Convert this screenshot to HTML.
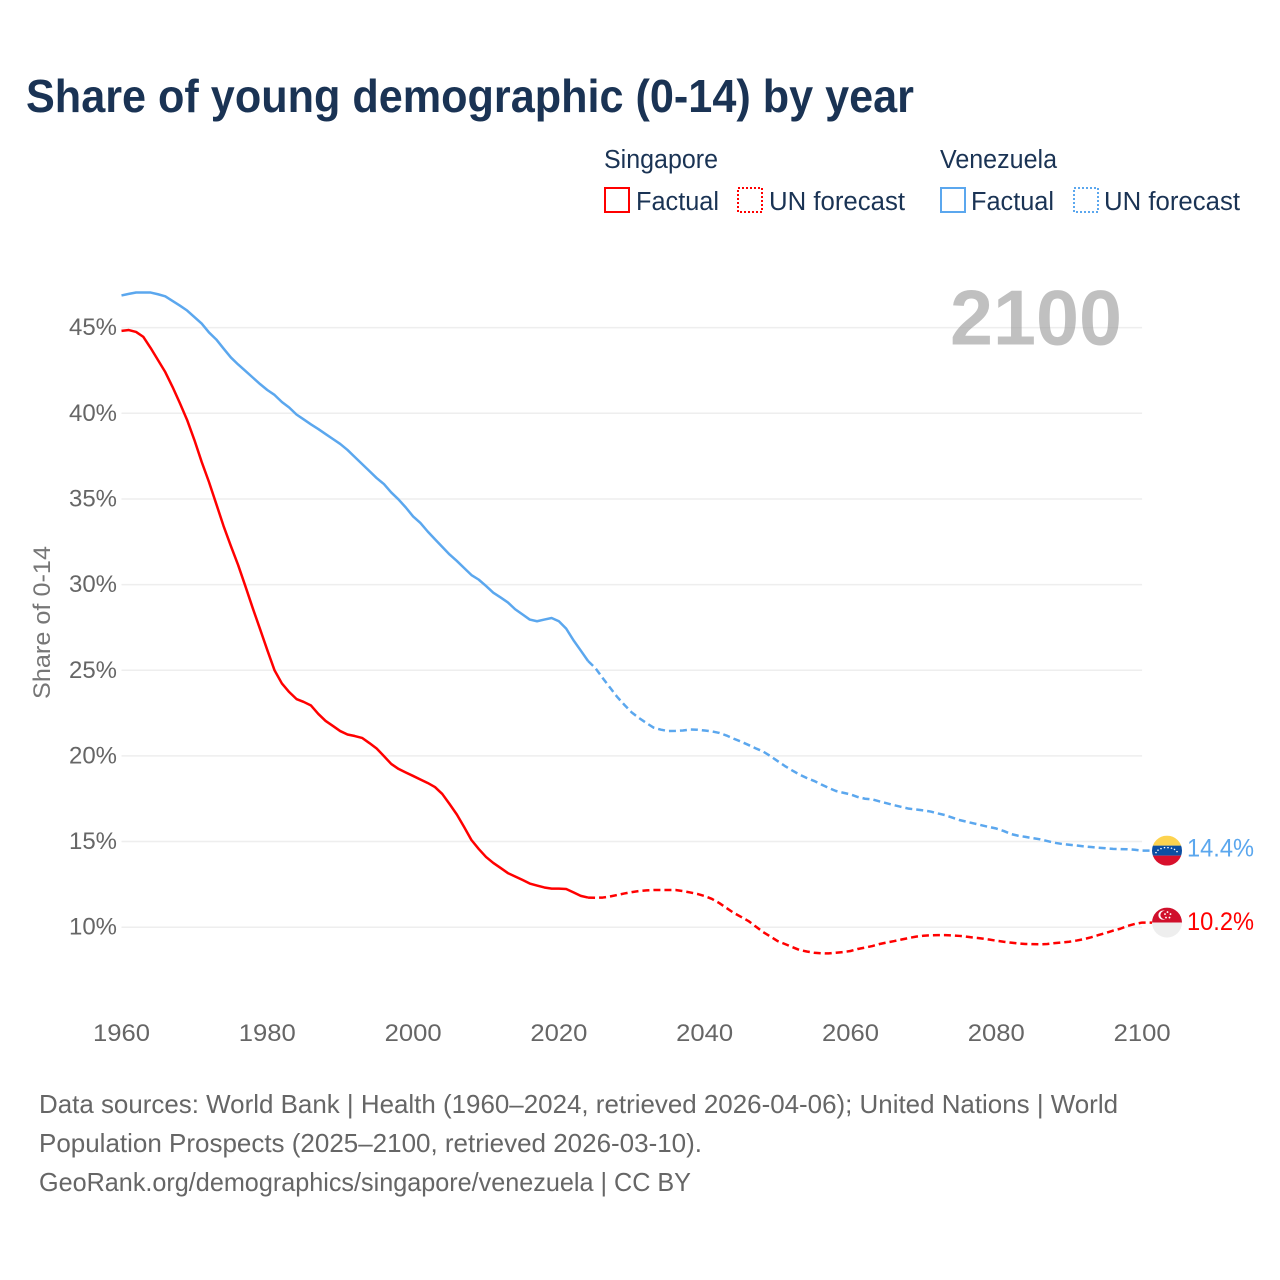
<!DOCTYPE html>
<html lang="en">
<head>
<meta charset="utf-8">
<title>Share of young demographic (0-14) by year</title>
<style>
html,body{margin:0;padding:0;background:#fff;}
svg{display:block;font-family:"Liberation Sans",sans-serif;}
</style>
</head>
<body>
<svg id="chart" xmlns="http://www.w3.org/2000/svg" width="1280" height="1280" viewBox="0 0 1280 1280">
  <rect x="0" y="0" width="1280" height="1280" fill="#ffffff"/>
  <text x="26" y="112" font-size="46" font-weight="700" fill="#1a3354" textLength="888" lengthAdjust="spacingAndGlyphs">Share of young demographic (0-14) by year</text>

  <g font-size="25.5" fill="#1a3354">
    <text x="604" y="168" textLength="114" lengthAdjust="spacingAndGlyphs">Singapore</text>
    <text x="940" y="168" textLength="117" lengthAdjust="spacingAndGlyphs">Venezuela</text>
    <g>
      <rect x="605" y="188" width="24" height="24" fill="none" stroke="#ff0000" stroke-width="2"/>
      <text x="636" y="210" textLength="83" lengthAdjust="spacingAndGlyphs">Factual</text>
    </g>
    <g>
      <rect x="738" y="188" width="24" height="24" fill="none" stroke="#ff0000" stroke-width="2" stroke-dasharray="2 2"/>
      <text x="769" y="210" textLength="136" lengthAdjust="spacingAndGlyphs">UN forecast</text>
    </g>
    <g>
      <rect x="941" y="188" width="24" height="24" fill="none" stroke="#5ba7ee" stroke-width="2"/>
      <text x="971" y="210" textLength="83" lengthAdjust="spacingAndGlyphs">Factual</text>
    </g>
    <g>
      <rect x="1074" y="188" width="24" height="24" fill="none" stroke="#5ba7ee" stroke-width="2" stroke-dasharray="2 2"/>
      <text x="1104" y="210" textLength="136" lengthAdjust="spacingAndGlyphs">UN forecast</text>
    </g>
  </g>

  <g id="grid"></g>
  <text x="950" y="344.5" font-size="78" font-weight="700" fill="#999999" fill-opacity="0.62" textLength="172" lengthAdjust="spacingAndGlyphs">2100</text>
  <g id="y-ticks"></g>
  <g id="x-ticks"></g>
  <text transform="translate(50 622.5) rotate(-90)" text-anchor="middle" font-size="24" fill="#777777" textLength="153" lengthAdjust="spacingAndGlyphs">Share of 0-14</text>
  <g id="series"></g>

  <g id="flag-venezuela">
    <clipPath id="clip-ve"><circle cx="0" cy="0" r="15"/></clipPath>
    <g clip-path="url(#clip-ve)">
      <rect x="-15" y="-15" width="30" height="10" fill="#fdd34f"/>
      <rect x="-15" y="-5" width="30" height="10" fill="#0b4ea2"/>
      <rect x="-15" y="5" width="30" height="10" fill="#d8102c"/>
      <g fill="#ffffff">
        <circle cx="-11" cy="2" r=".8"/><circle cx="-9" cy="-.5" r=".8"/><circle cx="-6" cy="-2" r=".8"/><circle cx="-2.5" cy="-3" r=".8"/><circle cx="1" cy="-3" r=".8"/><circle cx="4.5" cy="-2.5" r=".8"/><circle cx="7.5" cy="-1.2" r=".8"/><circle cx="10" cy="1" r=".8"/>
      </g>
    </g>
  </g>
  <g id="flag-singapore">
    <clipPath id="clip-sg"><circle cx="0" cy="0" r="15"/></clipPath>
    <g clip-path="url(#clip-sg)">
      <rect x="-15" y="-15" width="30" height="15" fill="#d0102c"/>
      <rect x="-15" y="0" width="30" height="15" fill="#eeeeee"/>
      <circle cx="-4" cy="-7.5" r="4.6" fill="#ffffff"/>
      <circle cx="-2.4" cy="-7.5" r="4.2" fill="#d0102c"/>
      <g fill="#ffffff">
        <circle cx="0.5" cy="-10.5" r=".9"/><circle cx="3.5" cy="-8.5" r=".9"/><circle cx="2.5" cy="-5" r=".9"/><circle cx="-1" cy="-5" r=".9"/><circle cx="-2" cy="-8.5" r=".9"/>
      </g>
    </g>
  </g>
  <g id="end-labels"></g>

  <g font-size="26" fill="#666666">
    <text x="39" y="1113" textLength="1079" lengthAdjust="spacingAndGlyphs">Data sources: World Bank | Health (1960–2024, retrieved 2026-04-06); United Nations | World</text>
    <text x="39" y="1152" textLength="663" lengthAdjust="spacingAndGlyphs">Population Prospects (2025–2100, retrieved 2026-03-10).</text>
    <text x="39" y="1191" textLength="652" lengthAdjust="spacingAndGlyphs">GeoRank.org/demographics/singapore/venezuela | CC BY</text>
  </g>
</svg>
<script>
const xTickYears = [1960, 1980, 2000, 2020, 2040, 2060, 2080, 2100];
const yTickValues = [10, 15, 20, 25, 30, 35, 40, 45];
const yTickLabels = ["10%", "15%", "20%", "25%", "30%", "35%", "40%", "45%"];
const factualStartYear = 1960;
const forecastStartYear = 2025;
const singaporeFactual = [44.81,44.86,44.75,44.46,43.81,43.11,42.41,41.54,40.60,39.61,38.44,37.16,35.99,34.71,33.42,32.26,31.14,29.90,28.63,27.41,26.18,24.99,24.23,23.73,23.32,23.15,22.94,22.45,22.04,21.75,21.45,21.25,21.16,21.05,20.75,20.43,19.99,19.53,19.24,19.03,18.83,18.62,18.42,18.18,17.78,17.19,16.58,15.85,15.09,14.57,14.10,13.75,13.46,13.16,12.96,12.76,12.55,12.43,12.32,12.25,12.25,12.23,12.03,11.83,11.73];
const singaporeForecast = [11.72,11.73,11.79,11.88,11.97,12.05,12.11,12.15,12.17,12.17,12.17,12.17,12.11,12.03,11.94,11.82,11.65,11.41,11.12,10.83,10.60,10.36,10.04,9.72,9.46,9.19,9.02,8.84,8.67,8.58,8.51,8.48,8.47,8.51,8.55,8.61,8.73,8.81,8.90,9.02,9.11,9.19,9.28,9.37,9.45,9.50,9.53,9.54,9.54,9.52,9.49,9.44,9.39,9.34,9.28,9.21,9.15,9.10,9.05,9.02,9.01,9.00,9.02,9.07,9.11,9.15,9.22,9.30,9.41,9.54,9.66,9.80,9.91,10.07,10.19,10.27];
const venezuelaFactual = [46.88,46.97,47.05,47.05,47.05,46.95,46.83,46.56,46.29,46.00,45.62,45.24,44.72,44.31,43.78,43.26,42.85,42.47,42.09,41.71,41.36,41.07,40.66,40.34,39.93,39.64,39.35,39.08,38.79,38.50,38.21,37.86,37.45,37.04,36.63,36.22,35.87,35.38,34.97,34.50,33.98,33.60,33.10,32.65,32.20,31.76,31.38,30.97,30.56,30.29,29.92,29.53,29.25,28.96,28.56,28.26,27.96,27.86,27.96,28.05,27.86,27.43,26.75,26.15,25.54];
const venezuelaForecast = [25.13,24.55,23.99,23.44,22.97,22.53,22.21,21.92,21.65,21.53,21.45,21.46,21.48,21.54,21.53,21.48,21.43,21.34,21.19,21.00,20.83,20.64,20.44,20.26,19.99,19.70,19.41,19.15,18.91,18.71,18.54,18.33,18.13,17.95,17.85,17.75,17.60,17.50,17.46,17.34,17.23,17.12,17.02,16.92,16.87,16.82,16.75,16.64,16.54,16.39,16.25,16.15,16.05,15.95,15.85,15.76,15.62,15.44,15.34,15.27,15.20,15.13,15.03,14.93,14.86,14.81,14.77,14.72,14.68,14.64,14.61,14.57,14.56,14.55,14.52,14.47];
const endValueLabels = ["10.2%", "14.4%"];

const NS = "http://www.w3.org/2000/svg";
const xScale = function (year) { return 121.5 + (year - 1960) * 7.29; };
const yScale = function (value) { return 927.2 - (value - 10) * 17.13; };
const RED = "#ff0000";
const BLUE = "#5ba7ee";
const connectorEndX = 1152;

function make(tag, attrs, parent, content) {
  const el = document.createElementNS(NS, tag);
  Object.keys(attrs).forEach(function (k) { el.setAttribute(k, attrs[k]); });
  if (content !== undefined) el.textContent = content;
  parent.appendChild(el);
  return el;
}

const gridGroup = document.getElementById("grid");
const yTickGroup = document.getElementById("y-ticks");
const xTickGroup = document.getElementById("x-ticks");
const seriesGroup = document.getElementById("series");
const endLabelGroup = document.getElementById("end-labels");

yTickValues.forEach(function (v, i) {
  const line = make("line", {x1: xScale(1960), x2: xScale(2100), y1: yScale(v), y2: yScale(v), stroke: "#eeeeee", "stroke-width": 1.5}, gridGroup);
  
  
  const label = make("text", {x: 117, y: yScale(v) + 7.5, "text-anchor": "end", "font-size": 24, fill: "#666666", textLength: 48, lengthAdjust: "spacingAndGlyphs"}, yTickGroup, yTickLabels[i]);
  
  
});

xTickYears.forEach(function (yr) {
  const label = make("text", {x: xScale(yr), y: 1041, "text-anchor": "middle", "font-size": 24.5, fill: "#666666", textLength: 57, lengthAdjust: "spacingAndGlyphs"}, xTickGroup, String(yr));
  
  
});

function pathFrom(values, startYear, prefix) {
  let d = prefix;
  values.forEach(function (v, i) {
    const cmd = (d === "" ? "M" : "L");
    d += cmd + xScale(startYear + i).toFixed(2) + " " + yScale(v).toFixed(2);
  });
  return d;
}

function drawSeries(name, color, factual, forecast) {
  const solid = make("path", {d: pathFrom(factual, factualStartYear, ""), fill: "none", stroke: color, "stroke-width": 2.5, "stroke-linejoin": "round"}, seriesGroup);
  
  
  const lastFactualYear = factualStartYear + factual.length - 1;
  const start = "M" + xScale(lastFactualYear).toFixed(2) + " " + yScale(factual[factual.length - 1]).toFixed(2);
  let d = pathFrom(forecast, forecastStartYear, start);
  d += "L" + connectorEndX + " " + yScale(forecast[forecast.length - 1]).toFixed(2);
  const dashed = make("path", {d: d, fill: "none", stroke: color, "stroke-width": 2.5, "stroke-dasharray": "7 4", "stroke-linejoin": "round"}, seriesGroup);
  
  
}

drawSeries("singapore", RED, singaporeFactual, singaporeForecast);
drawSeries("venezuela", BLUE, venezuelaFactual, venezuelaForecast);

const sgEndY = yScale(singaporeForecast[singaporeForecast.length - 1]);
const veEndY = yScale(venezuelaForecast[venezuelaForecast.length - 1]);
document.getElementById("flag-singapore").setAttribute("transform", "translate(1167 " + sgEndY.toFixed(2) + ")");
document.getElementById("flag-venezuela").setAttribute("transform", "translate(1167 " + veEndY.toFixed(2) + ")");

const sgLabel = make("text", {x: 1187, y: sgEndY + 7.5, "font-size": 25, fill: RED, textLength: 67, lengthAdjust: "spacingAndGlyphs"}, endLabelGroup, endValueLabels[0]);


const veLabel = make("text", {x: 1187, y: veEndY + 6, "font-size": 25, fill: BLUE, textLength: 67, lengthAdjust: "spacingAndGlyphs"}, endLabelGroup, endValueLabels[1]);


</script>
</body>
</html>
